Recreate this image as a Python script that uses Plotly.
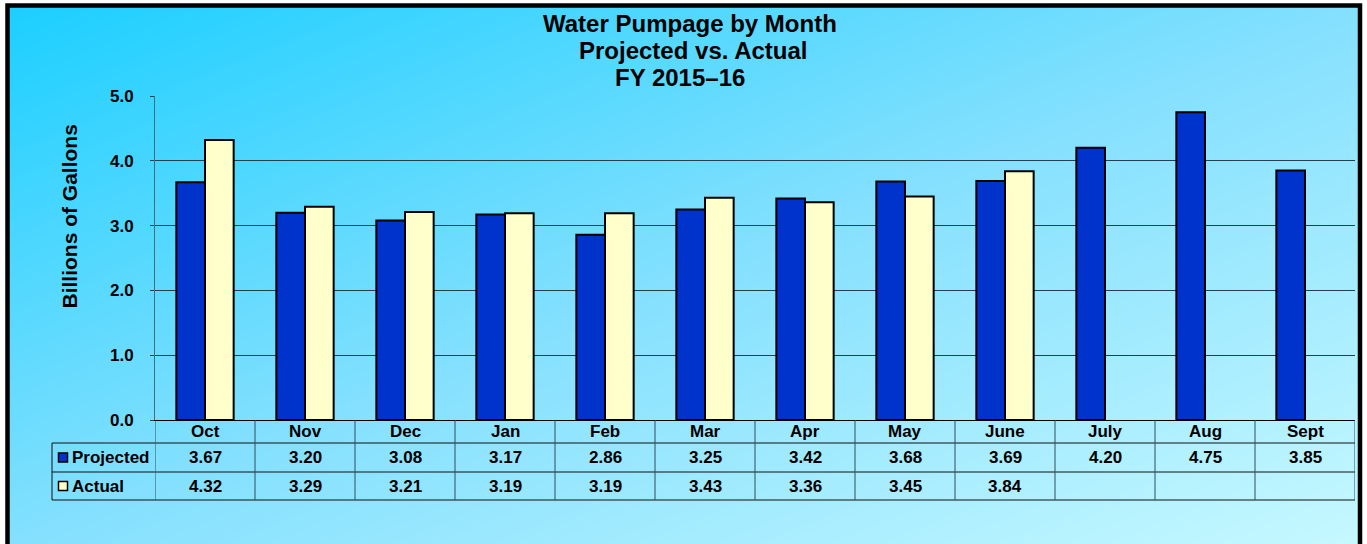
import plotly.graph_objects as go

# ---- data ----
months = ["Oct", "Nov", "Dec", "Jan", "Feb", "Mar", "Apr", "May", "June", "July", "Aug", "Sept"]
projected = [3.67, 3.20, 3.08, 3.17, 2.86, 3.25, 3.42, 3.68, 3.69, 4.20, 4.75, 3.85]
actual = [4.32, 3.29, 3.21, 3.19, 3.19, 3.43, 3.36, 3.45, 3.84, None, None, None]
y_ticks = [0, 1, 2, 3, 4, 5]

W, H = 1367, 544
FONT = "Arial, Liberation Sans, sans-serif"
BLUE = "#0033cc"
CREAM = "#ffffcc"


def px(x):
    return x / W


def py(y):
    return 1 - y / H


fig = go.Figure()

# background gradient (diagonal) on a full-page hidden subplot
fig.add_trace(go.Heatmap(
    x=[10, 1359], y=[7, 544], z=[[0, 0.5], [0.5, 1]],
    colorscale=[[0, "#1ccfff"], [0.5, "#84e0fe"], [1, "#c6f8ff"]],
    zsmooth="best", showscale=False, hoverinfo="skip",
    xaxis="x", yaxis="y",
))

fig.add_trace(go.Bar(
    x=months, y=projected, name="Projected",
    marker=dict(color=BLUE, line=dict(color="black", width=2)),
    xaxis="x2", yaxis="y2", showlegend=False,
))
fig.add_trace(go.Bar(
    x=months, y=actual, name="Actual",
    marker=dict(color=CREAM, line=dict(color="black", width=2)),
    xaxis="x2", yaxis="y2", showlegend=False,
))

shapes = []
annotations = []

# white strips outside the frame
shapes.append(dict(type="rect", xref="paper", yref="paper", x0=0, x1=px(6), y0=0, y1=1,
                   fillcolor="white", line=dict(width=0), layer="above"))
shapes.append(dict(type="rect", xref="paper", yref="paper", x0=0, x1=1, y0=py(4), y1=1,
                   fillcolor="white", line=dict(width=0), layer="above"))
shapes.append(dict(type="rect", xref="paper", yref="paper", x0=px(1362), x1=1, y0=0, y1=1,
                   fillcolor="white", line=dict(width=0), layer="above"))
# frame
shapes.append(dict(type="rect", xref="paper", yref="paper",
                   x0=px(7.5), x1=px(1360), y0=py(570), y1=py(5.5),
                   line=dict(color="black", width=4.5), fillcolor="rgba(0,0,0,0)"))

# data table lines
TBL_LEFT, TBL_RIGHT = 52, 1355
ROW_TOP, ROW1, ROW2, ROW_BOT = 420, 443, 472, 500
for yy in (ROW1, ROW2, ROW_BOT):
    shapes.append(dict(type="line", xref="paper", yref="paper",
                       x0=px(TBL_LEFT), x1=px(TBL_RIGHT), y0=py(yy), y1=py(yy),
                       line=dict(color="#111111", width=1)))
shapes.append(dict(type="line", xref="paper", yref="paper",
                   x0=px(TBL_LEFT), x1=px(TBL_LEFT), y0=py(ROW1), y1=py(ROW_BOT),
                   line=dict(color="#111111", width=1)))
for k in range(len(months) + 1):
    shapes.append(dict(type="line", xref="x2", yref="paper",
                       x0=k - 0.5, x1=k - 0.5, y0=py(ROW_TOP), y1=py(ROW_BOT),
                       line=dict(color="#2f4f5c", width=1)))

cell_font = dict(family=FONT, size=17, color="black", weight="bold")
for m, p, a in zip(months, projected, actual):
    annotations.append(dict(x=m, y=py(431.5), xref="x2", yref="paper", text=m,
                            showarrow=False, font=cell_font, xanchor="center", yanchor="middle"))
    annotations.append(dict(x=m, y=py(457.5), xref="x2", yref="paper", text=f"{p:.2f}",
                            showarrow=False, font=cell_font, xanchor="center", yanchor="middle"))
    if a is not None:
        annotations.append(dict(x=m, y=py(486), xref="x2", yref="paper", text=f"{a:.2f}",
                                showarrow=False, font=cell_font, xanchor="center", yanchor="middle"))

# legend keys in table
for label, color, yc in (("Projected", BLUE, 457.5), ("Actual", CREAM, 486)):
    shapes.append(dict(type="rect", xref="paper", yref="paper",
                       x0=px(58.5), x1=px(67.5), y0=py(yc + 4.5), y1=py(yc - 4.5),
                       fillcolor=color, line=dict(color="black", width=1.5)))
    annotations.append(dict(x=px(70), y=py(yc), xref="paper", yref="paper", text=label,
                            showarrow=False, font=cell_font, xanchor="left", yanchor="middle"))

# title lines
title_font = dict(family=FONT, size=24, color="black", weight="bold")
for txt, yc, xc in (("Water Pumpage by Month", 24, 690), ("Projected vs. Actual", 50, 693),
                    ("FY 2015–16", 77, 680)):
    annotations.append(dict(x=px(xc), y=py(yc), xref="paper", yref="paper", text=txt,
                            showarrow=False, font=title_font, xanchor="center", yanchor="middle"))

# y axis title
annotations.append(dict(x=px(69), y=py(216.5), xref="paper", yref="paper",
                        text="Billions of Gallons", textangle=-90, showarrow=False,
                        font=dict(family=FONT, size=21, color="black", weight="bold"),
                        xanchor="center", yanchor="middle"))

fig.update_layout(
    width=W, height=H, autosize=False,
    margin=dict(l=0, r=0, t=0, b=0, pad=0, autoexpand=False),
    paper_bgcolor="white", plot_bgcolor="rgba(0,0,0,0)",
    barmode="group", bargap=0.427, bargroupgap=0,
    xaxis=dict(domain=[0, 1], range=[0, W], visible=False, fixedrange=True, automargin=False),
    yaxis=dict(domain=[0, 1], range=[H, 0], visible=False, fixedrange=True, automargin=False),
    xaxis2=dict(domain=[px(155), px(1355)], anchor="y2", type="category",
                range=[-0.5, len(months) - 0.5], showticklabels=False, automargin=False,
                showline=True, linecolor="black", linewidth=1, ticks="", showgrid=False),
    yaxis2=dict(domain=[py(420), py(96)], anchor="x2", range=[0, 5], automargin=False,
                tickvals=y_ticks, tickformat=".1f",
                showgrid=True, gridcolor="#24424d", gridwidth=1, zeroline=False,
                showline=True, linecolor="#3d6f80", linewidth=1,
                ticks="outside", ticklen=4, tickcolor="#24424d",
                tickfont=dict(family=FONT, size=17, color="black", weight="bold"),
                ticklabelstandoff=13),
    shapes=shapes, annotations=annotations,
    showlegend=False,
)

fig.write_html(
    "out.html",
    config={"displayModeBar": False, "responsive": False},
    post_script="document.body.style.margin='0';document.body.style.padding='0';"
                "document.body.style.overflow='hidden';",
)
